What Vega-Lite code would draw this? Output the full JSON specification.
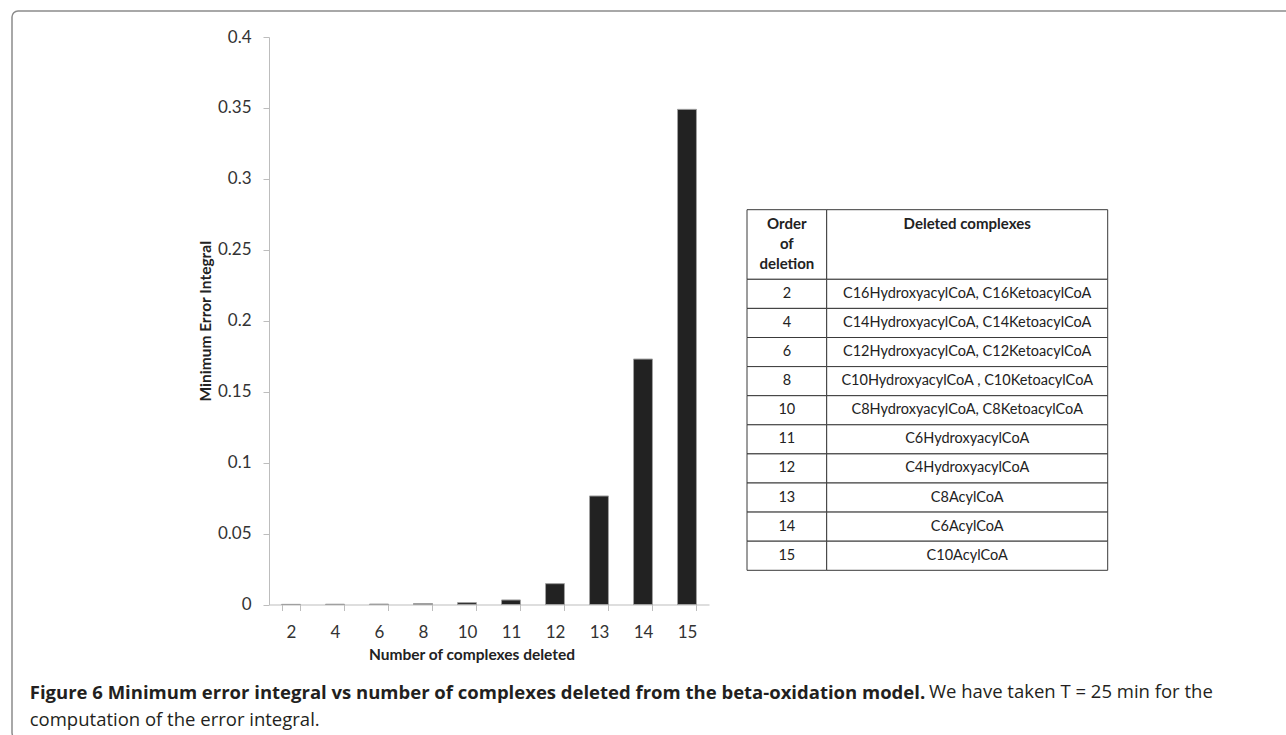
{
  "$schema": "https://vega.github.io/schema/vega-lite/v6.json",
  "autosize": "pad",
  "padding": {"left": 11, "top": 10, "right": 0, "bottom": 0},
  "background": "white",
  "title": {
    "text": "Figure 6 Minimum error integral vs number of complexes deleted from the beta-oxidation model.",
    "subtitle": "computation of the error integral.",
    "orient": "bottom",
    "anchor": "start",
    "frame": "bounds",
    "offset": -56,
    "dx": 18.5,
    "font": "Open Sans",
    "fontSize": 18.5,
    "fontWeight": "bold",
    "color": "#231f20",
    "subtitleFont": "Open Sans",
    "subtitleFontSize": 18.5,
    "subtitleFontWeight": "normal",
    "subtitleColor": "#231f20",
    "subtitlePadding": 8.5
  },
  "vconcat": [
    {
      "width": 1285,
      "height": 728,
      "title": {
        "text": "We have taken T = 25 min for the",
        "orient": "bottom",
        "anchor": "start",
        "frame": "group",
        "offset": -56,
        "dx": 917,
        "font": "Open Sans",
        "fontSize": 18.5,
        "fontWeight": "normal",
        "color": "#231f20"
      },
      "resolve": {
        "scale": {"x": "independent", "y": "independent"},
        "axis": {"x": "independent", "y": "independent"}
      },
      "layer": [
        {
          "data": {
            "values": [
              {"n": 2, "v": 0.0001},
              {"n": 4, "v": 0.0002},
              {"n": 6, "v": 0.0003},
              {"n": 8, "v": 0.0007},
              {"n": 10, "v": 0.0013},
              {"n": 11, "v": 0.0032},
              {"n": 12, "v": 0.0147},
              {"n": 13, "v": 0.0765},
              {"n": 14, "v": 0.173},
              {"n": 15, "v": 0.349}
            ]
          },
          "mark": {"type": "bar", "fill": "#222222", "stroke": "#a0a0a0", "strokeWidth": 1},
          "encoding": {
            "x": {
              "field": "n",
              "type": "ordinal",
              "scale": {"range": [257, 697], "paddingInner": 0.57, "paddingOuter": 0.285},
              "axis": {
                "orient": "bottom",
                "offset": -134.5,
                "title": "Number of complexes deleted",
                "titleX": 459.5,
                "titleAlign": "center",
                "labelAngle": 0,
                "tickBand": "extent",
                "tickSize": 6,
                "tickColor": "#bdbdbd",
                "domainColor": "#bdbdbd",
                "labelFont": "Lato",
                "labelFontSize": 17,
                "labelColor": "#333333",
                "labelPadding": 14,
                "titleFont": "Lato",
                "titleFontSize": 15.5,
                "titleFontWeight": "bold",
                "titleColor": "#222222",
                "titlePadding": 7
              }
            },
            "y": {
              "field": "v",
              "type": "quantitative",
              "scale": {"domain": [0, 0.4], "range": [593.5, 26], "nice": false},
              "axis": {
                "orient": "left",
                "offset": -257,
                "title": "Minimum Error Integral",
                "values": [0, 0.05, 0.1, 0.15, 0.2, 0.25, 0.3, 0.35, 0.4],
                "format": "~g",
                "grid": false,
                "tickSize": 6,
                "tickColor": "#bdbdbd",
                "domainColor": "#bdbdbd",
                "labelFont": "Lato",
                "labelFontSize": 17,
                "labelColor": "#333333",
                "labelPadding": 12,
                "titleFont": "Lato",
                "titleFontSize": 15.5,
                "titleFontWeight": "bold",
                "titleColor": "#222222",
                "titlePadding": 3.5
              }
            }
          }
        },
        {
          "data": {"values": [{"h": "Order\nof\ndeletion"}]},
          "layer": [
            {
              "mark": {"type": "rect", "fill": "white", "stroke": "#3a3a3a", "strokeWidth": 1},
              "encoding": {
                "x": {"field": "h", "type": "nominal", "axis": null, "scale": {"range": [735, 814.7], "paddingInner": 0, "paddingOuter": 0}},
                "y": {"field": "h", "type": "nominal", "axis": null, "scale": {"range": [198.7, 268.3], "paddingInner": 0, "paddingOuter": 0}}
              }
            },
            {
              "mark": {"type": "text", "lineBreak": "\n", "baseline": "top", "align": "center", "font": "Lato", "fontSize": 15, "fontWeight": "bold", "lineHeight": 20, "dy": 7, "color": "#222222"},
              "encoding": {
                "x": {"field": "h", "type": "nominal", "axis": null},
                "y": {"field": "h", "type": "nominal", "axis": null, "bandPosition": 0},
                "text": {"field": "h"}
              }
            }
          ]
        },
        {
          "data": {"values": [{"h": "Deleted complexes"}]},
          "layer": [
            {
              "mark": {"type": "rect", "fill": "white", "stroke": "#3a3a3a", "strokeWidth": 1},
              "encoding": {
                "x": {"field": "h", "type": "nominal", "axis": null, "scale": {"range": [814.7, 1095.7], "paddingInner": 0, "paddingOuter": 0}},
                "y": {"field": "h", "type": "nominal", "axis": null, "scale": {"range": [198.7, 268.3], "paddingInner": 0, "paddingOuter": 0}}
              }
            },
            {
              "mark": {"type": "text", "baseline": "top", "align": "center", "font": "Lato", "fontSize": 15, "fontWeight": "bold", "dy": 7, "color": "#222222"},
              "encoding": {
                "x": {"field": "h", "type": "nominal", "axis": null},
                "y": {"field": "h", "type": "nominal", "axis": null, "bandPosition": 0},
                "text": {"field": "h"}
              }
            }
          ]
        },
        {
          "data": {"name": "deletions"},
          "layer": [
            {
              "mark": {"type": "rect", "fill": "white", "stroke": "#3a3a3a", "strokeWidth": 1},
              "encoding": {
                "x": {"datum": "Order of deletion", "type": "nominal", "axis": null, "scale": {"range": [735, 814.7], "paddingInner": 0, "paddingOuter": 0}},
                "y": {"field": "k", "type": "ordinal", "axis": null, "scale": {"range": [268.3, 559.3], "paddingInner": 0, "paddingOuter": 0}}
              }
            },
            {
              "mark": {"type": "text", "baseline": "middle", "align": "center", "font": "Lato", "fontSize": 14.5, "color": "#222222"},
              "encoding": {
                "x": {"datum": "Order of deletion", "type": "nominal", "axis": null},
                "y": {"field": "k", "type": "ordinal", "axis": null},
                "text": {"field": "k"}
              }
            }
          ]
        },
        {
          "data": {"name": "deletions"},
          "layer": [
            {
              "mark": {"type": "rect", "fill": "white", "stroke": "#3a3a3a", "strokeWidth": 1},
              "encoding": {
                "x": {"datum": "Deleted complexes", "type": "nominal", "axis": null, "scale": {"range": [814.7, 1095.7], "paddingInner": 0, "paddingOuter": 0}},
                "y": {"field": "k", "type": "ordinal", "axis": null, "scale": {"range": [268.3, 559.3], "paddingInner": 0, "paddingOuter": 0}}
              }
            },
            {
              "mark": {"type": "text", "baseline": "middle", "align": "center", "font": "Lato", "fontSize": 14.5, "color": "#222222"},
              "encoding": {
                "x": {"datum": "Deleted complexes", "type": "nominal", "axis": null},
                "y": {"field": "k", "type": "ordinal", "axis": null},
                "text": {"field": "names"}
              }
            }
          ]
        }
      ]
    }
  ],
  "datasets": {
    "deletions": [
      {"k": 2, "names": "C16HydroxyacylCoA, C16KetoacylCoA"},
      {"k": 4, "names": "C14HydroxyacylCoA,  C14KetoacylCoA"},
      {"k": 6, "names": "C12HydroxyacylCoA,  C12KetoacylCoA"},
      {"k": 8, "names": "C10HydroxyacylCoA , C10KetoacylCoA"},
      {"k": 10, "names": "C8HydroxyacylCoA,  C8KetoacylCoA"},
      {"k": 11, "names": "C6HydroxyacylCoA"},
      {"k": 12, "names": "C4HydroxyacylCoA"},
      {"k": 13, "names": "C8AcylCoA"},
      {"k": 14, "names": "C6AcylCoA"},
      {"k": 15, "names": "C10AcylCoA"}
    ]
  },
  "config": {
    "font": "Lato",
    "view": {"stroke": "#8c8c8c", "strokeWidth": 1.5, "cornerRadius": 6, "fill": "white"}
  }
}
